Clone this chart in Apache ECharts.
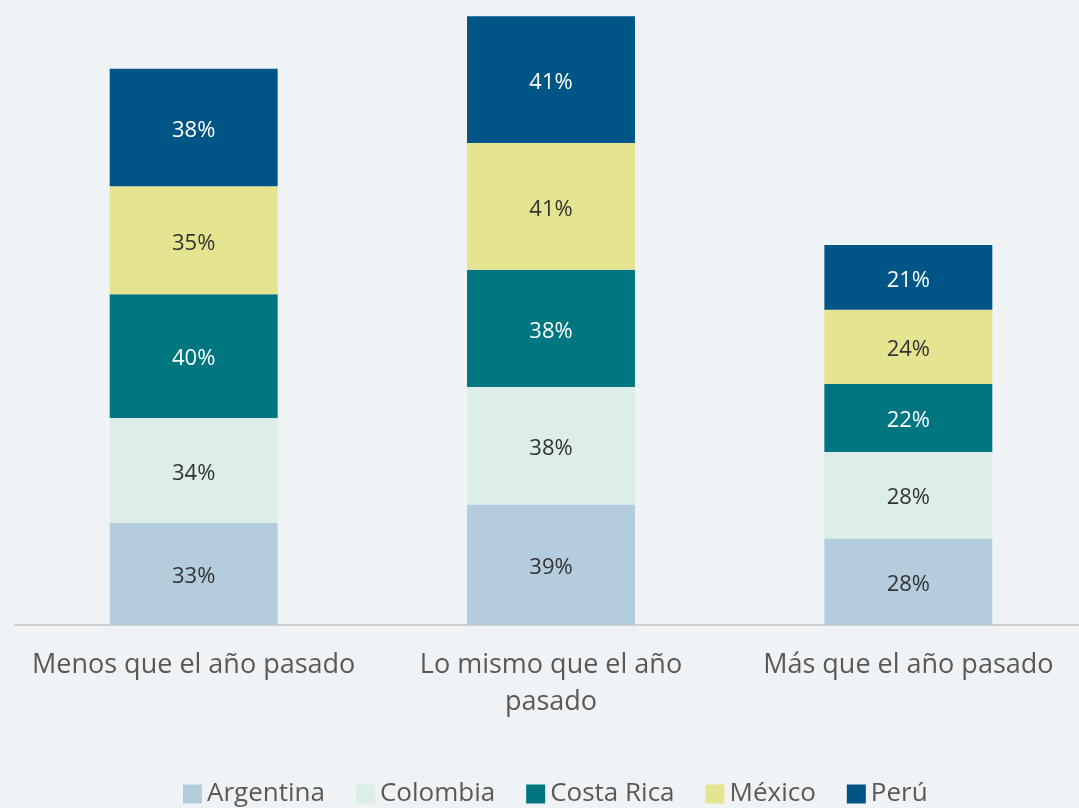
<!DOCTYPE html>
<html>
<head>
  <meta charset="utf-8">
  <title></title>
  <script src="https://cdn.jsdelivr.net/npm/echarts@6/dist/echarts.min.js"></script>
  <style>
    html, body { margin: 0; padding: 0; background: #eff3f6; }
    #chart { width: 1079px; height: 808px; }
  </style>
</head>
<body>
<div id="chart"></div>
<script>
  var categories = ['Menos que el año pasado', 'Lo mismo que el año\npasado', 'Más que el año pasado'];
  var argentina = [33, 39, 28];
  var colombia = [34, 38, 28];
  var costaRica = [40, 38, 22];
  var mexico = [35, 41, 24];
  var peru = [38, 41, 21];

  var chart = echarts.init(document.getElementById('chart'));

  function serie(name, data, color, labelColor) {
    return {
      name: name,
      type: 'bar',
      stack: 'total',
      data: data,
      barWidth: '47%',
      itemStyle: { color: color },
      label: {
        show: true,
        formatter: '{c}%',
        color: labelColor,
        fontSize: 22,
        fontFamily: 'Open Sans',
        offset: [0, 3]
      }
    };
  }

  chart.setOption({
    backgroundColor: '#eff3f6',
    animation: false,
    grid: { left: 15, width: 1072, top: 7, bottom: 183, outerBoundsMode: 'none', containLabel: false },
    legend: {
      bottom: -4,
      left: 178,
      itemWidth: 19,
      itemHeight: 19,
      itemGap: 31,
      icon: 'rect',
      textStyle: { color: '#595959', fontSize: 26, fontFamily: 'Open Sans' },
      data: ['Argentina', 'Colombia', 'Costa Rica', 'México', 'Perú']
    },
    xAxis: {
      type: 'category',
      data: categories,
      axisLine: { lineStyle: { color: '#d0d0d0', width: 2 } },
      axisTick: { show: false },
      axisLabel: {
        color: '#595959',
        fontSize: 27,
        fontFamily: 'Open Sans',
        lineHeight: 37,
        margin: 22,
        interval: 0
      }
    },
    yAxis: {
      type: 'value',
      min: 0,
      max: 200,
      show: false,
      splitLine: { show: false }
    },
    series: [
      serie('Argentina', argentina, '#b4cddc', '#333333'),
      serie('Colombia', colombia, '#ddeee8', '#333333'),
      serie('Costa Rica', costaRica, '#007681', '#ffffff'),
      serie('México', mexico, '#e5e490', '#333333'),
      serie('Perú', peru, '#005587', '#ffffff')
    ]
  });
</script>
</body>
</html>
